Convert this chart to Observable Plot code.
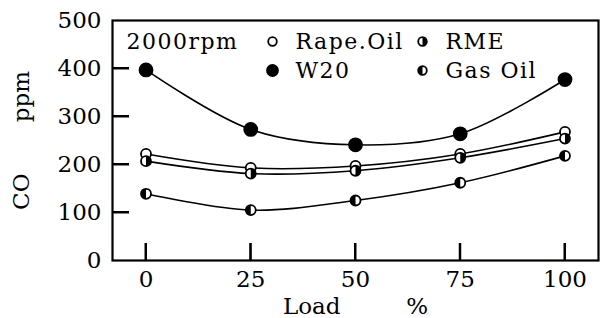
<!DOCTYPE html>
<html>
<head>
<meta charset="utf-8">
<script src="https://cdn.jsdelivr.net/npm/d3@7"></script>
<script src="https://cdn.jsdelivr.net/npm/@observablehq/plot@0.6"></script>
<style>
  html, body { margin: 0; padding: 0; background: #fff; }
  svg { font-family: "DejaVu Serif", serif; }
  g[aria-label="text"] text { letter-spacing: 1.5px; }
</style>
</head>
<body>
<div id="chart"></div>
<script>
// ---- data ----
const loads = [0, 25, 50, 75, 100];
const seriesNames = ["Rape.Oil", "RME", "W20", "Gas Oil"];
const rapeOil = [222, 193, 197, 222, 268];
const rme = [207, 181, 187, 214, 254];
const w20 = [397, 273, 241, 264, 377];
const gasOil = [139, 105, 125, 162, 218];
const yTicks = [0, 100, 200, 300, 400, 500];
const xTicks = [0, 25, 50, 75, 100];
const conditionLabel = "2000rpm";

// ---- layout ----
const W = 609, H = 318, mL = 112, mR = 11, mT = 20, mB = 58, tickLen = 17;

// ---- symbols ----
function halfDisc(left) {
  return {
    draw(ctx, size) {
      const r = Math.sqrt(size / Math.PI);
      ctx.moveTo(0, -r);
      ctx.arc(0, 0, r, -Math.PI / 2, Math.PI / 2, left);
      ctx.closePath();
    }
  };
}
const styles = {
  "Rape.Oil": {fill: "white", half: null, r: 5},
  "RME": {fill: "white", half: halfDisc(false), r: 5},
  "W20": {fill: "black", half: null, r: 6.5},
  "Gas Oil": {fill: "white", half: halfDisc(true), r: 5}
};
const valuesBy = {"Rape.Oil": rapeOil, "RME": rme, "W20": w20, "Gas Oil": gasOil};

const rows = [];
for (const name of seriesNames) {
  valuesBy[name].forEach((v, i) => rows.push({series: name, load: loads[i], co: v}));
}

const marks = [];
// lines
for (const name of seriesNames) {
  marks.push(Plot.line(rows.filter(d => d.series === name), {
    x: "load", y: "co", stroke: "black", strokeWidth: 1.6, curve: "catmull-rom"
  }));
}
// markers
for (const name of seriesNames) {
  const s = styles[name];
  const data = rows.filter(d => d.series === name);
  marks.push(Plot.dot(data, {x: "load", y: "co", r: s.r, fill: s.fill, stroke: "black", strokeWidth: 1.8}));
  if (s.half) marks.push(Plot.dot(data, {x: "load", y: "co", r: s.r, symbol: s.half, fill: "black", stroke: "none"}));
}

// legend (inside frame, top-left)
marks.push(Plot.text([conditionLabel], {
  frameAnchor: "top-left", dx: 14, dy: 21, textAnchor: "start", lineAnchor: "middle",
  fontSize: 22, fill: "black"
}));
seriesNames.forEach((name, i) => {
  const s = styles[name];
  const col = i % 2, row = Math.floor(i / 2);
  const dx = 160 + col * 150, dy = 21 + row * 29;
  const lr = name === "W20" ? 5.5 : 4.3;
  marks.push(Plot.dot([name], {frameAnchor: "top-left", dx, dy, r: lr, fill: s.fill, stroke: "black", strokeWidth: 1.8}));
  if (s.half) marks.push(Plot.dot([name], {frameAnchor: "top-left", dx, dy, r: lr, symbol: s.half, fill: "black", stroke: "none"}));
  marks.push(Plot.text([name], {
    frameAnchor: "top-left", dx: dx + 23, dy, textAnchor: "start", lineAnchor: "middle",
    fontSize: 22, fill: "black"
  }));
});

// axes
const nb = "\u00a0";
marks.push(Plot.axisY({ticks: yTicks, tickSize: 0, tickPadding: 11, fontSize: 23,
  label: "CO" + nb.repeat(7) + "ppm", labelAnchor: "center", labelArrow: "none", labelOffset: 100}));
marks.push(Plot.axisX({ticks: xTicks, tickSize: 0, tickPadding: 10, fontSize: 23,
  label: "Load" + nb.repeat(9) + "%", labelAnchor: "center", labelArrow: "none", labelOffset: 53}));
marks.push(Plot.frame({stroke: "black", strokeWidth: 2.2}));
// inward ticks (rules inset to tick length)
marks.push(Plot.ruleY(yTicks.slice(1, -1), {
  insetRight: W - mL - mR - tickLen, stroke: "black", strokeWidth: 2}));
marks.push(Plot.ruleX(xTicks, {
  insetTop: H - mT - mB - tickLen, stroke: "black", strokeWidth: 2}));

const chart = Plot.plot({
  width: W,
  height: H,
  marginLeft: mL,
  marginRight: mR,
  marginTop: mT,
  marginBottom: mB,
  style: {fontFamily: "DejaVu Serif, serif", fontSize: "22px", color: "black", background: "white"},
  x: {domain: [-8, 108]},
  y: {domain: [0, 500]},
  marks
});

// extra inward tick strokes placed with the chart's own scales
const xs = chart.scale("x"), ys = chart.scale("y");
const tg = d3.select(chart).append("g").attr("stroke", "black").attr("stroke-width", 2);
tg.selectAll("line.yt").data(yTicks.slice(1, -1)).join("line")
  .attr("x1", mL).attr("x2", mL + tickLen)
  .attr("y1", d => ys.apply(d)).attr("y2", d => ys.apply(d));
tg.selectAll("line.xt").data(xTicks).join("line")
  .attr("x1", d => xs.apply(d)).attr("x2", d => xs.apply(d))
  .attr("y1", H - mB - tickLen).attr("y2", H - mB);

document.getElementById("chart").appendChild(chart);
</script>
</body>
</html>
